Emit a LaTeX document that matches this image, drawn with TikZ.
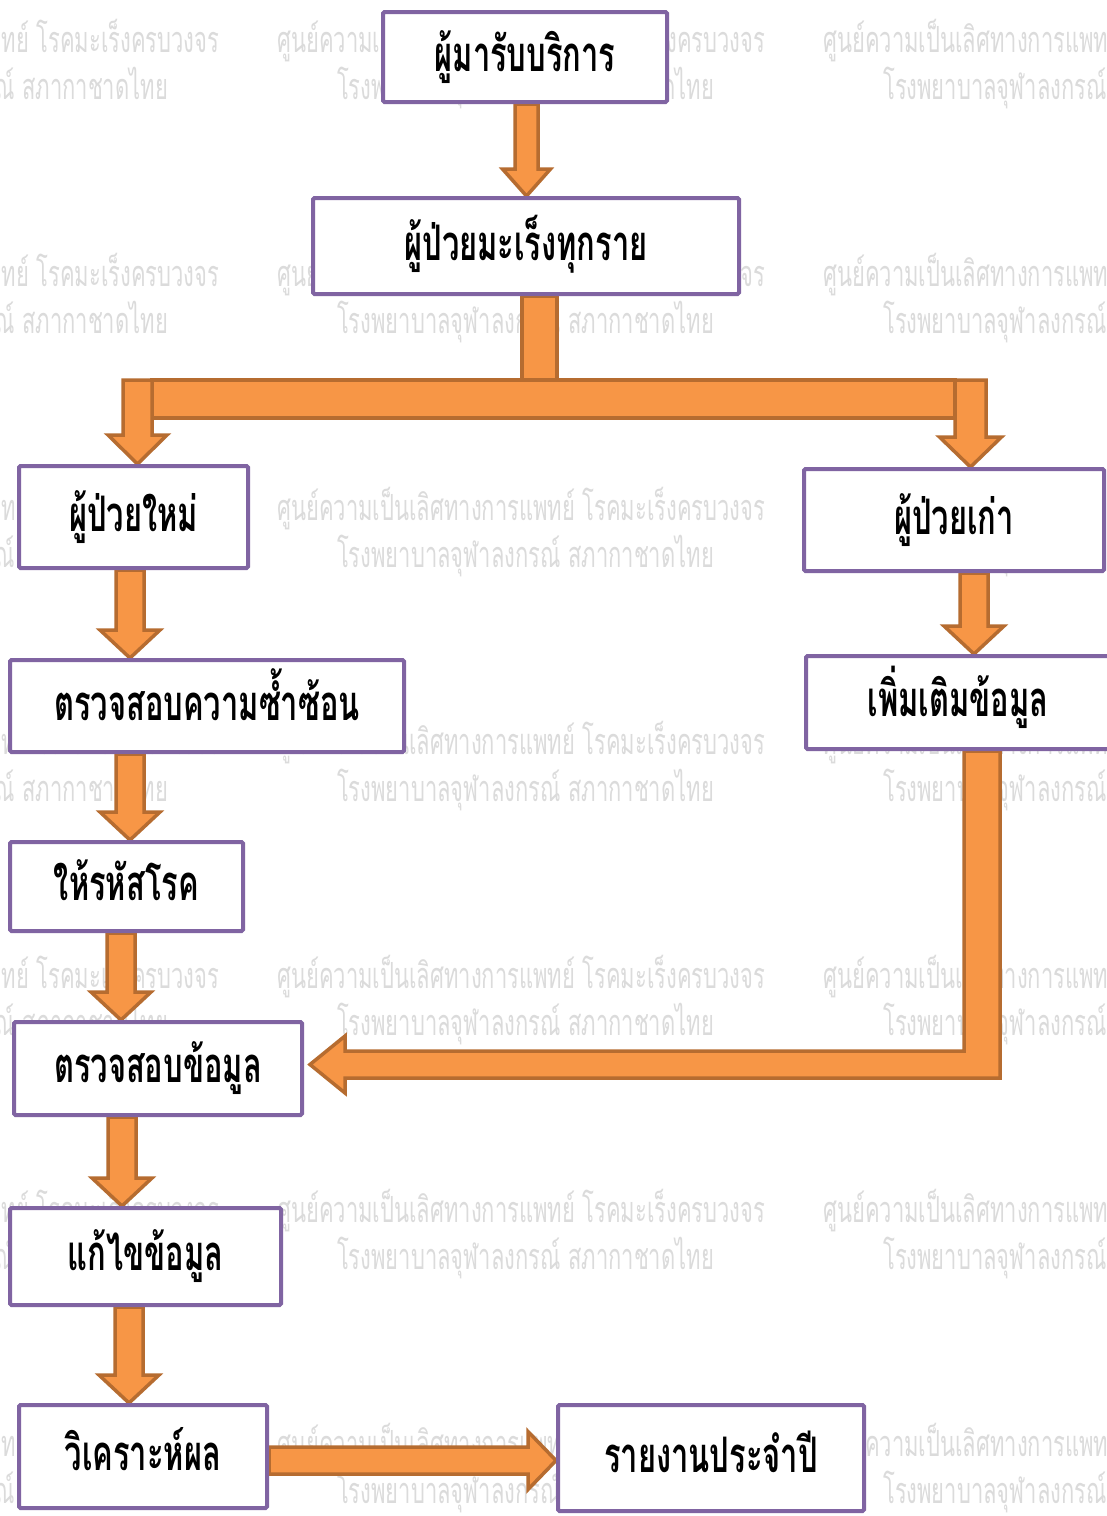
\documentclass[tikz,border=0pt]{standalone}
\usepackage{fontspec}
\newfontfamily\thaib[Script=Thai,FakeStretch=0.63]{Loma}
\newfontfamily\thaiw[Script=Thai,FakeStretch=0.61]{Loma}
\usetikzlibrary{calc}
\definecolor{boxpurple}{HTML}{8064A2}
\definecolor{arrfill}{HTML}{F79646}
\definecolor{arrline}{HTML}{B66C30}
\definecolor{wmgray}{gray}{0.86}
\pgfdeclarelayer{bg}
\pgfdeclarelayer{arr}
\pgfsetlayers{bg,arr,main}
\tikzset{
  shw/.store in=\shw, hhw/.store in=\hhw, hlen/.store in=\hlen,
  shw=14pt, hhw=30pt, hlen=28pt,
  box/.style={draw=boxpurple, line width=4pt, fill=white, rounded corners=1.5pt,
    inner sep=0pt, font=\thaib\bfseries\fontsize{49}{56}\selectfont,
    text height=28pt, text depth=0pt},
  wm/.style={text=wmgray, inner sep=0pt, font=\thaiw\fontsize{36}{40}\selectfont},
  blk/.style={draw=arrline, fill=arrfill, line width=3.5pt, line join=miter},
  dn/.style={blk, to path={let \p1=(\tikztostart), \p2=(\tikztotarget) in
    (\x1-\shw,\y1) -- (\x1-\shw,\y2+\hlen) -- (\x1-\hhw,\y2+\hlen) -- (\x1,\y2)
    -- (\x1+\hhw,\y2+\hlen) -- (\x1+\shw,\y2+\hlen) -- (\x1+\shw,\y1) -- cycle}},
  rt/.style={blk, to path={let \p1=(\tikztostart), \p2=(\tikztotarget) in
    (\x1,\y1-\shw) -- (\x2-\hlen,\y1-\shw) -- (\x2-\hlen,\y1-\hhw) -- (\x2,\y1)
    -- (\x2-\hlen,\y1+\hhw) -- (\x2-\hlen,\y1+\shw) -- (\x1,\y1+\shw) -- cycle}},
}
\begin{document}
\begin{tikzpicture}[x=1pt,y=-1pt]
\useasboundingbox (0,0) rectangle (1107,1516);
\clip (0,0) rectangle (1107,1516);
\begin{pgfonlayer}{bg}
\fill[white] (0,0) rectangle (1107,1516);
\foreach \r in {0,...,6} {
  \foreach \c in {0,1,2} {
    \node[wm, anchor=base west] (wa\r\c) at ({277+546*(\c-1)}, {52+234*\r})
      {ศูนย์ความเป็นเลิศทางการแพทย์ โรคมะเร็งครบวงจร};
    \node[wm, anchor=base west] (wb\r\c) at ({337+546*(\c-1)}, {99+234*\r})
      {โรงพยาบาลจุฬาลงกรณ์ สภากาชาดไทย};
  }
}
\end{pgfonlayer}

\node[box, minimum width=284pt, minimum height=90pt] (n1) at (525,57) {ผู้มารับบริการ};
\node[box, minimum width=426pt, minimum height=96pt] (n2) at (526,246) {ผู้ป่วยมะเร็งทุกราย};
\node[box, minimum width=229pt, minimum height=102pt] (n3) at (133.5,517) {ผู้ป่วยใหม่};
\node[box, minimum width=300pt, minimum height=102pt] (n4) at (954,520) {ผู้ป่วยเก่า};
\node[box, minimum width=304pt, minimum height=93pt] (n5) at (958,702.5) {เพิ่มเติมข้อมูล};
\node[box, minimum width=394pt, minimum height=92pt] (n6) at (207,706) {ตรวจสอบความซ้ำซ้อน};
\node[box, minimum width=233pt, minimum height=89pt] (n7) at (126.5,886.5) {ให้รหัสโรค};
\node[box, minimum width=288pt, minimum height=93pt] (n8) at (158,1068.5) {ตรวจสอบข้อมูล};
\node[box, minimum width=271pt, minimum height=97pt] (n9) at (145.5,1256.5) {แก้ไขข้อมูล};
\node[box, minimum width=248pt, minimum height=103pt] (n10) at (143,1456.5) {วิเคราะห์ผล};
\node[box, minimum width=306pt, minimum height=106pt] (n11) at (711,1458) {รายงานประจำปี};

\coordinate (tl) at (137.5,380);
\coordinate (tr) at (970.5,380);

\begin{pgfonlayer}{arr}
\draw[dn, shw=11.5pt, hhw=24pt, hlen=27pt] ([xshift=1.5pt]n1.south) to (n2.north);
\draw[blk] let \p1=([xshift=13.5pt]n2.south) in (\x1-17.5pt,\y1) rectangle (\x1+17.5pt,\y1-86pt);
\draw[blk] ([xshift=14.5pt]tl) rectangle ([xshift=-15.5pt,yshift=-38pt]tr);
\draw[dn, shw=14.5pt, hhw=29.5pt, hlen=29pt] (tl) to (n3.north);
\draw[dn, shw=15.5pt, hhw=31pt, hlen=30pt] (tr) to (n4.north);
\draw[dn] ([xshift=-3.5pt]n3.south) to (n6.north);
\draw[dn] ([xshift=-77pt]n6.south) to (n7.north);
\draw[dn] ([xshift=-5.5pt]n7.south) to (n8.north);
\draw[dn] ([xshift=-36pt]n8.south) to (n9.north);
\draw[dn] ([xshift=-16.5pt]n9.south) to (n10.north);
\draw[rt, shw=13.5pt, hhw=29pt, hlen=28pt] ([yshift=-4pt]n10.east) to (n11.west);
\draw[dn] ([xshift=20pt]n4.south) to (n5.north);
\draw[blk] let \p1=([xshift=24pt]n5.south), \p2=([xshift=6pt,yshift=4pt]n8.east) in
  (\x1-18pt,\y1) -- (\x1-18pt,\y2+13.5pt) -- (\x2+35pt,\y2+13.5pt) -- (\x2+35pt,\y2+28.5pt)
  -- (\x2,\y2) -- (\x2+35pt,\y2-28.5pt) -- (\x2+35pt,\y2-13.5pt) -- (\x1+18pt,\y2-13.5pt)
  -- (\x1+18pt,\y1) -- cycle;
\end{pgfonlayer}
\end{tikzpicture}
\end{document}
